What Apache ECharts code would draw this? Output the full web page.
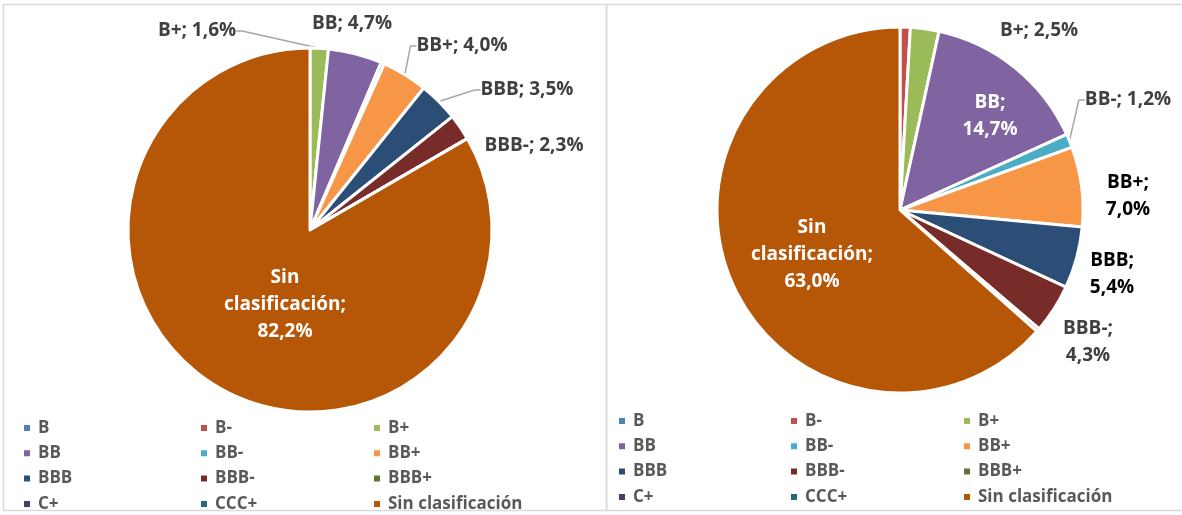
<!DOCTYPE html>
<html>
<head>
<meta charset="utf-8">
<script src="https://cdn.jsdelivr.net/npm/echarts@6/dist/echarts.min.js"></script>
<style>
  html, body { margin: 0; padding: 0; background: #fff; }
  #main { width: 1182px; height: 515px; }
</style>
</head>
<body>
<div id="main"></div>
<script>
// categorías de calificación (orden de la leyenda)
var categorias = ['B', 'B-', 'B+', 'BB', 'BB-', 'BB+', 'BBB', 'BBB-', 'BBB+', 'C+', 'CCC+', 'Sin clasificación'];
var valoresIzq = [0, 0, 1.6, 4.7, 0.3, 4.0, 3.5, 2.3, 0, 0, 0, 82.2];
var valoresDer = [0, 0.9, 2.5, 14.7, 1.2, 7.0, 5.4, 4.3, 0.3, 0, 0, 63.0];
var colores = ['#4F81BD', '#C0504D', '#9BBB59', '#8064A2', '#4BACC6', '#F79646',
               '#2C4D75', '#772C2A', '#5F7530', '#4D3B62', '#276A7C', '#B65708'];

var fuente = '"Open Sans"';

// donde queda cada etiqueta (centro del texto) y si lleva línea guía
var posIzq = {
    'B+': [197, 31, true], 'BB': [352, 24, false], 'BB+': [462, 46, true],
    'BBB': [527, 90, true], 'BBB-': [534, 146, false], 'Sin clasificación': [285, 305, false]
};
var posDer = {
    'B+': [1039, 31, false], 'BB': [990, 116, false], 'BB-': [1128, 100, true],
    'BB+': [1128, 196, false], 'BBB': [1112, 274, false], 'BBB-': [1088, 342, false],
    'Sin clasificación': [812, 255, false]
};

var myChart = echarts.init(document.getElementById('main'));

function pct(v) {
    return v.toFixed(1).replace('.', ',') + '%';
}

// etiquetas dentro (blancas) / fuera (gris o negro)
function armarDatos(valores, pos, dentro, negras, partir) {
    return categorias.map(function (c, i) {
        var d = { name: c, value: valores[i] };
        var show = !!pos[c];
        var color = '#404040';
        if (negras.indexOf(c) >= 0) color = '#000';
        if (dentro.indexOf(c) >= 0) color = '#fff';
        d.label = {
            show: show,
            color: color,
            formatter: function (p) {
                var n = p.name;
                if (n === 'Sin clasificación') return 'Sin\nclasificación;\n' + pct(p.value);
                if (partir.indexOf(n) >= 0) return n + ';\n' + pct(p.value);
                return n + '; ' + pct(p.value);
            }
        };
        d.labelLine = { show: show && pos[c][2] };
        return d;
    });
}

function serie(centro, radio, datos, pos) {
    return {
        type: 'pie',
        center: centro,
        radius: radio,
        startAngle: 90,
        clockwise: true,
        avoidLabelOverlap: false,
        itemStyle: { borderColor: '#fff', borderWidth: 3 },
        label: {
            position: 'outside',
            fontFamily: fuente,
            fontWeight: 'bold',
            fontSize: 19,
            lineHeight: 27,
            align: 'center',
            verticalAlign: 'middle'
        },
        labelLine: {
            length: 10,
            length2: 6,
            lineStyle: { color: '#A6A6A6', width: 1.5 }
        },
        labelLayout: function (p) {
            var q = pos[datos[p.dataIndex].name];
            if (!q) return {};
            return { x: q[0], y: q[1], align: 'center', verticalAlign: 'middle' };
        },
        emphasis: { disabled: true },
        data: datos
    };
}

function leyenda(x, y, nombres) {
    return {
        left: x,
        top: y,
        padding: 0,
        orient: 'vertical',
        icon: 'rect',
        itemWidth: 8,
        itemHeight: 8,
        itemGap: 5.3,
        selectedMode: false,
        data: nombres,
        textStyle: {
            color: '#595959',
            fontFamily: fuente,
            fontWeight: 'bold',
            fontSize: 17,
            lineHeight: 20,
            padding: [0, 0, 0, 2]
        }
    };
}

var col1 = ['B', 'BB', 'BBB', 'C+'];
var col2 = ['B-', 'BB-', 'BBB-', 'CCC+'];
var col3 = ['B+', 'BB+', 'BBB+', 'Sin clasificación'];

option = {
    color: colores,
    animation: false,
    graphic: [
        { type: 'rect', shape: { x: 3.5, y: 4.5, width: 603, height: 506 },
          style: { fill: 'none', stroke: '#D9D9D9', lineWidth: 1.5 } },
        { type: 'rect', shape: { x: 606.5, y: 4.5, width: 580, height: 506 },
          style: { fill: 'none', stroke: '#D9D9D9', lineWidth: 1.5 } }
    ],
    legend: [
        leyenda(22, 418, col1),
        leyenda(199, 418, col2),
        leyenda(372, 418, col3),
        leyenda(617, 411, col1),
        leyenda(789, 411, col2),
        leyenda(962, 411, col3)
    ],
    series: [
        serie([310, 230], 182, armarDatos(valoresIzq, posIzq, ['Sin clasificación'], [], []), posIzq),
        serie([900, 210], 183, armarDatos(valoresDer, posDer, ['Sin clasificación', 'BB'], ['BB+', 'BBB'],
            ['BB', 'BB+', 'BBB', 'BBB-']), posDer)
    ]
};

myChart.setOption(option);
window.addEventListener("resize", function () {
    myChart.resize();
});
</script>
</body>
</html>
